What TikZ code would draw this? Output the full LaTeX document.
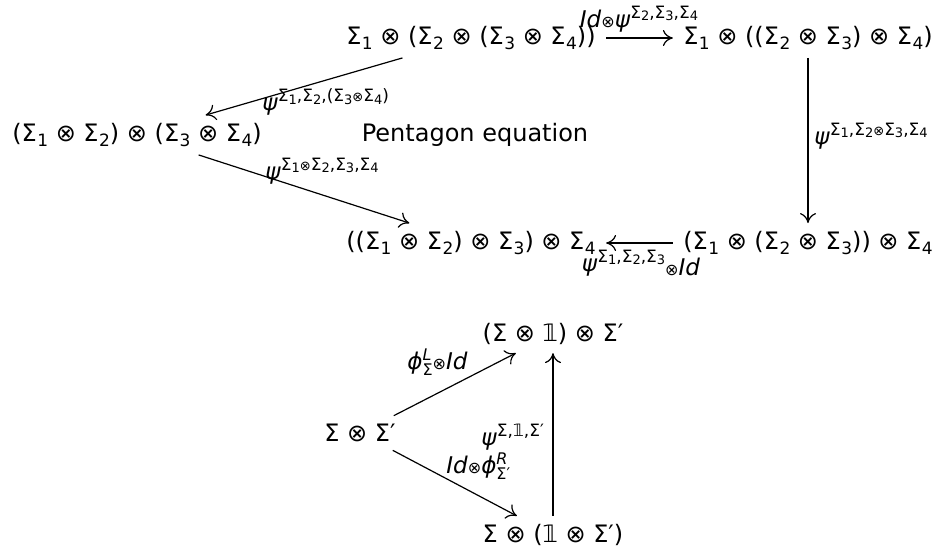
\documentclass[tikz,border=0pt]{standalone}
\usepackage{fontspec}
\setmainfont{DejaVu Sans}
\usetikzlibrary{calc,arrows.meta}
\newcommand{\mainsz}{\fontsize{12}{14}\selectfont}
\newcommand{\Sb}[1]{Σ\kern0.02em\raisebox{-0.35ex}{\fontsize{8.5}{9}\selectfont #1}}
\newcommand{\ot}{⊗}
\newcommand{\labsz}{\fontsize{11.5}{13}\selectfont}
\newcommand{\up}[1]{\raisebox{0.75ex}{\fontsize{8.5}{9}\selectfont #1}}
\newcommand{\Ss}[1]{Σ\raisebox{-0.3ex}{\fontsize{6.5}{7}\selectfont #1}}
\newcommand{\sot}{{\fontsize{6.5}{7}\selectfont ⊗}}
\newcommand{\lot}{{\fontsize{8}{8}\selectfont ⊗}}
\newcommand{\supsub}[2]{\rlap{\raisebox{0.75ex}{\fontsize{8}{9}\selectfont #1}}\raisebox{-0.45ex}{\fontsize{8}{9}\selectfont #2}}
\newcommand{\one}{𝟙}
\begin{document}
\begin{tikzpicture}[x=0.5pt,y=-0.5pt,
  obj/.style={inner xsep=5pt, inner ysep=4pt, font=\mainsz},
  lab/.style={inner sep=0pt, font=\labsz},
  arr/.style={-{To[length=5pt,width=8pt]}, line width=0.6pt}]
\useasboundingbox (0,0) rectangle (939,554);
% pentagon
\node[obj] (A)  at (471,38)  {\Sb{1} \ot{} (\Sb{2} \ot{} (\Sb{3} \ot{} \Sb{4}))};
\node[obj] (B)  at (808,38)  {\Sb{1} \ot{} ((\Sb{2} \ot{} \Sb{3}) \ot{} \Sb{4})};
\node[obj] (ML) at (137,135) {(\Sb{1} \ot{} \Sb{2}) \ot{} (\Sb{3} \ot{} \Sb{4})};
\node[obj] (PE) at (475,135) {Pentagon equation};
\node[obj] (BL) at (471,243) {((\Sb{1} \ot{} \Sb{2}) \ot{} \Sb{3}) \ot{} \Sb{4}};
\node[obj] (BR) at (808,243) {(\Sb{1} \ot{} (\Sb{2} \ot{} \Sb{3})) \ot{} \Sb{4}};
\draw[arr] (A) -- (B);
\draw[arr] (A) -- (ML);
\draw[arr] (ML) -- (BL);
\draw[arr] (B) -- (BR);
\draw[arr] (BR) -- (BL);
\node[lab] (lAB) at (639,19) {\textit{Id}\lot\textit{ψ}\up{\Ss{2},\Ss{3},\Ss{4}}};
\node[lab,anchor=west] (lAML) at (262,102) {\textit{ψ}\up{\Ss{1},\Ss{2},(\Ss{3}\sot\Ss{4})}};
\node[lab,anchor=west] (lMLBL) at (265,171) {\textit{ψ}\up{\Ss{1}\sot\Ss{2},\Ss{3},\Ss{4}}};
\node[lab,anchor=west] (lBBR) at (814,136) {\textit{ψ}\up{\Ss{1},\Ss{2}\sot\Ss{3},\Ss{4}}};
\node[lab] (lBRBL) at (641,263) {\textit{ψ}\up{\Ss{1},\Ss{2},\Ss{3}}\raisebox{-0.35ex}{\lot\textit{Id}}};
% triangle
\node[obj] (T)  at (553,334) {(Σ \ot{} \one) \ot{} Σ′};
\node[obj] (M)  at (360,433) {Σ \ot{} Σ′};
\node[obj] (Bt) at (553,535) {Σ \ot{} (\one{} \ot{} Σ′)};
\draw[arr] (M) -- (T);
\draw[arr] (M) -- (Bt);
\draw[arr] (Bt) -- (T);
\node[lab,anchor=west] (lMT) at (407,362) {\textit{ϕ}\supsub{\textit{L}}{Σ}\lot\textit{Id}};
\node[lab,anchor=west] (lBtT) at (481,437) {\textit{ψ}\up{Σ,\one,Σ′}};
\node[lab,anchor=west] (lMBt) at (446,466) {\textit{Id}\lot\textit{ϕ}\supsub{\textit{R}}{Σ′}};
\end{tikzpicture}
\end{document}
